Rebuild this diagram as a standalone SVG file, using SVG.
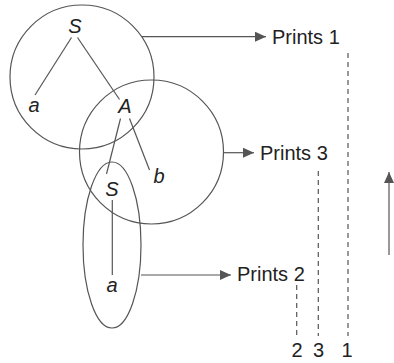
<svg xmlns="http://www.w3.org/2000/svg" width="394" height="363" viewBox="0 0 394 363">
<defs>
<style>
.ln{stroke:#555;stroke-width:1.2;fill:none}
.ds{stroke:#555;stroke-width:1.2;fill:none;stroke-dasharray:5,4}
.t{font-family:"Liberation Sans",Arial,sans-serif;font-size:20px;fill:#222}
.i{font-family:"Liberation Sans",Arial,sans-serif;font-size:20px;font-style:italic;fill:#222;text-anchor:middle}
.c{text-anchor:middle}
</style>
<marker id="ah" viewBox="0 0 11 10" refX="11" refY="5" markerWidth="11" markerHeight="10" markerUnits="userSpaceOnUse" orient="auto">
<path d="M0,0 L11,5 L0,10 z" fill="#555"/>
</marker>
</defs>
<g id="scopes">
<circle id="scope1" class="ln" cx="82" cy="77" r="72"/>
<circle id="scope3" class="ln" cx="151.5" cy="152" r="72"/>
<ellipse id="scope2" class="ln" cx="112" cy="245" rx="29" ry="83"/>
</g>
<g id="tree-edges">
<line class="ln" x1="71.5" y1="37.5" x2="35" y2="95"/>
<line class="ln" x1="77.5" y1="37.5" x2="119.5" y2="99.5"/>
<line class="ln" x1="120.5" y1="118.5" x2="106.5" y2="174"/>
<line class="ln" x1="129.5" y1="118.5" x2="149.5" y2="170"/>
<line class="ln" x1="112.3" y1="200" x2="112.3" y2="275"/>
</g>
<g id="nodeS1"><text class="i" x="75" y="33">S</text></g>
<g id="nodea1"><text class="i" x="34" y="112">a</text></g>
<g id="nodeA"><text class="i" x="125" y="113">A</text></g>
<g id="nodeb"><text class="i" x="159" y="183">b</text></g>
<g id="nodeS2"><text class="i" x="112" y="196">S</text></g>
<g id="nodea2"><text class="i" x="112" y="292">a</text></g>
<g id="connectors">
<line class="ln" x1="142" y1="36.7" x2="266" y2="36.7" marker-end="url(#ah)"/>
<line class="ln" x1="224" y1="152.7" x2="254" y2="152.7" marker-end="url(#ah)"/>
<line class="ln" x1="141" y1="275" x2="231" y2="275" marker-end="url(#ah)"/>
<line class="ln" x1="389" y1="255" x2="389" y2="172" marker-end="url(#ah)"/>
</g>
<g id="labels">
<text class="t" x="272" y="44">Prints 1</text>
<text class="t" x="260" y="160">Prints 3</text>
<text class="t" x="237" y="281">Prints 2</text>
</g>
<g id="order">
<line class="ds" x1="348" y1="53" x2="348" y2="336"/>
<line class="ds" x1="318.3" y1="171" x2="318.3" y2="336"/>
<line class="ds" x1="296.7" y1="285" x2="296.7" y2="336"/>
<text class="t c" x="297" y="357">2</text>
<text class="t c" x="318.5" y="357">3</text>
<text class="t c" x="347" y="357">1</text>
</g>
</svg>
